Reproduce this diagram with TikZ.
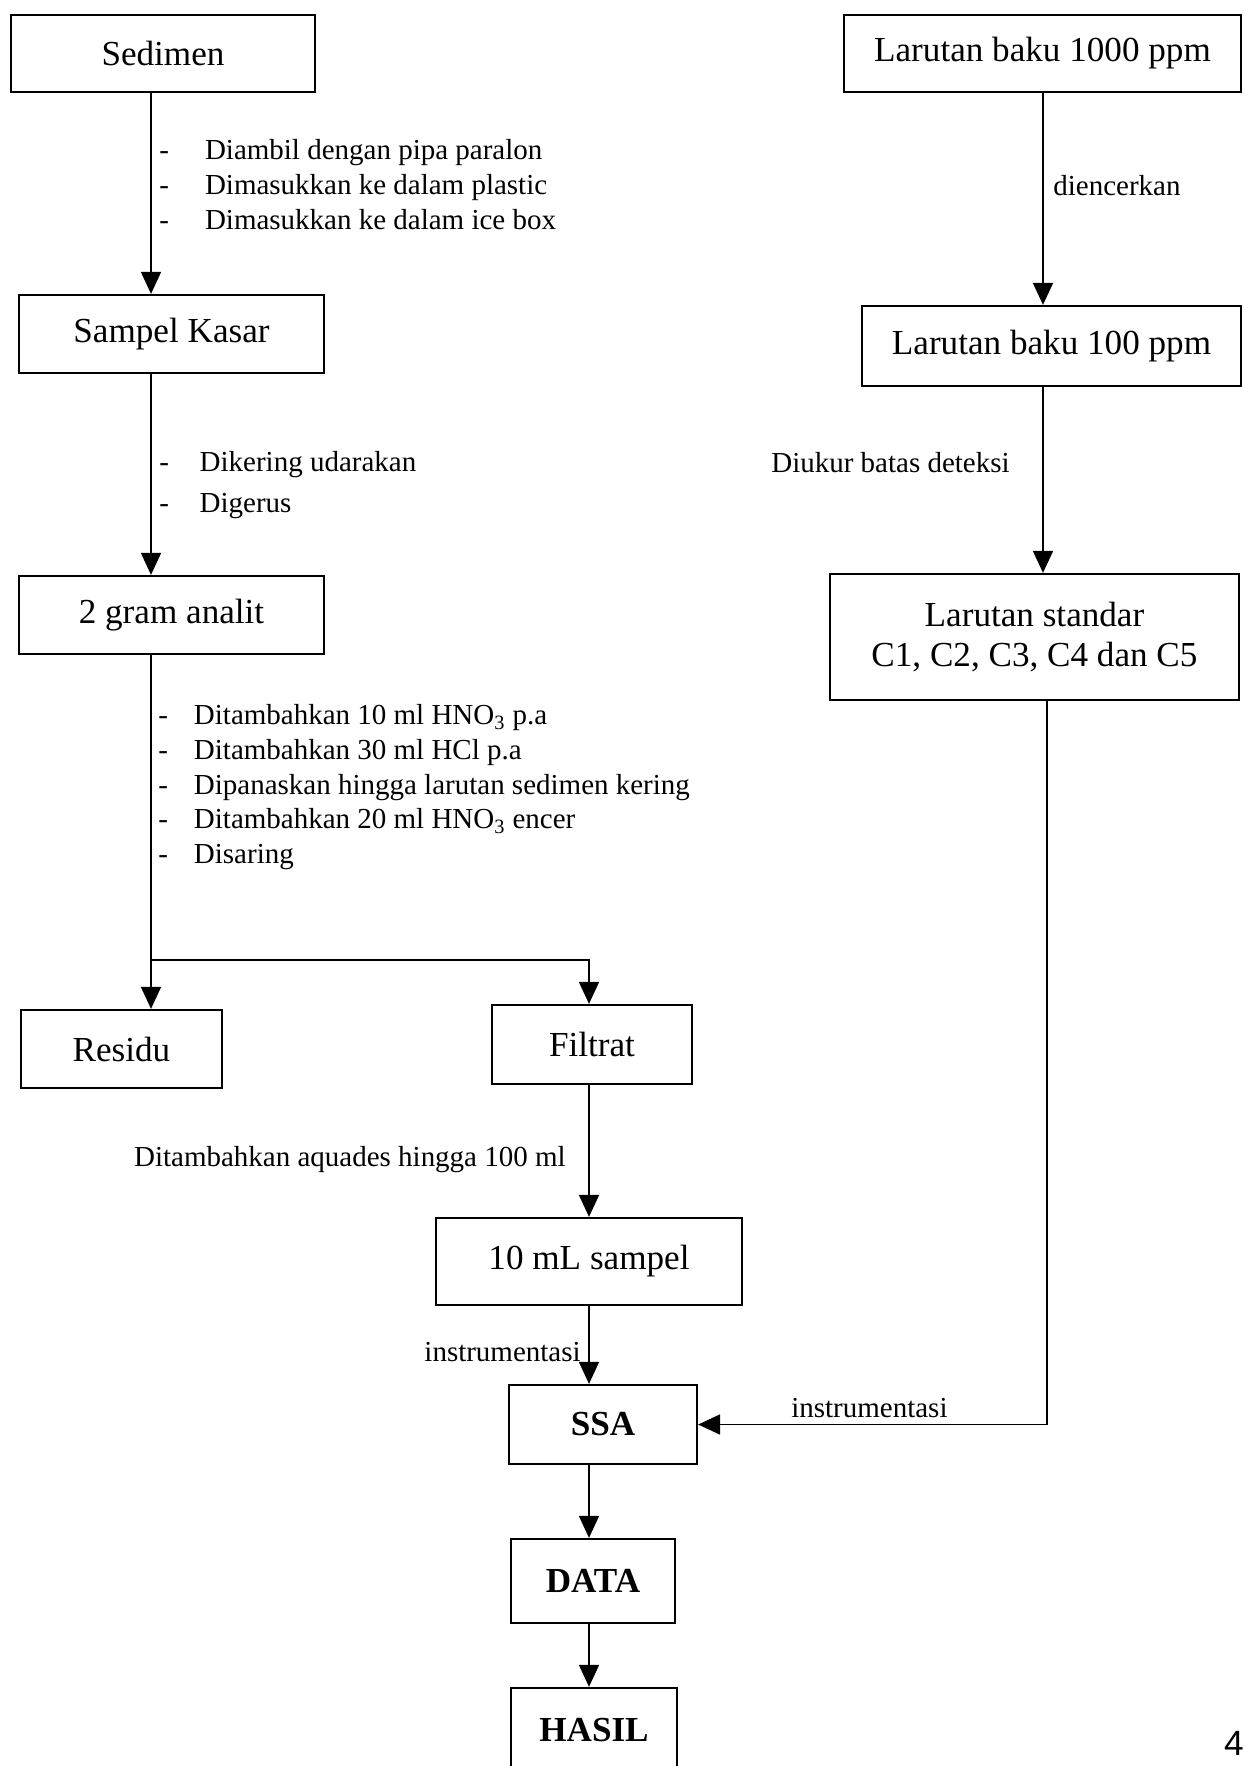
\documentclass[tikz,border=0pt]{standalone}
\usepackage{fontspec}
\setmainfont{Liberation Serif}
\newfontfamily\pagenum{Liberation Sans}
\usetikzlibrary{arrows.meta}

\begin{document}
\begin{tikzpicture}[x=0.02cm,y=-0.02cm]
\tikzset{boite/.style={draw, line width=1.3pt, inner sep=0pt, align=center, font=\fontsize{20}{22.5}\selectfont},
fleche/.style={line width=1pt, -{Triangle[length=0.44cm,width=0.4cm]}},
trait/.style={line width=1pt},
etiq/.style={inner sep=0pt, font=\fontsize{16.5}{19.8}\selectfont}}
\useasboundingbox (0,0) rectangle (1244,1766);
\node[boite, minimum width=6.08cm, minimum height=1.54cm] (sedimen) at (163,53.5) {Sedimen};
\node[boite, minimum width=6.1cm, minimum height=1.56cm] (kasar) at (171.5,334) {Sampel Kasar};
\node[boite, minimum width=6.1cm, minimum height=1.56cm] (analit) at (171.5,615) {2 gram analit};
\node[boite, minimum width=4.02cm, minimum height=1.56cm] (residu) at (121.5,1049) {Residu};
\node[boite, minimum width=4cm, minimum height=1.58cm] (filtrat) at (592,1044.5) {Filtrat};
\node[boite, minimum width=6.12cm, minimum height=1.74cm] (sampel) at (589,1261.5) {10 mL sampel};
\node[boite, minimum width=3.76cm, minimum height=1.58cm] (ssa) at (603,1424.5) {\textbf{SSA}};
\node[boite, minimum width=3.28cm, minimum height=1.68cm] (data) at (593,1581) {\textbf{DATA}};
\node[boite, minimum width=3.32cm, minimum height=1.68cm] (hasil) at (594,1730) {\textbf{HASIL}};
\node[boite, minimum width=7.94cm, minimum height=1.54cm] (baku1000) at (1042.5,53.5) {Larutan baku 1000 ppm};
\node[boite, minimum width=7.58cm, minimum height=1.6cm] (baku100) at (1051.5,346) {Larutan baku 100 ppm};
\node[boite, minimum width=8.18cm, minimum height=2.52cm] (standar) at (1034.5,637) {Larutan standar\\C1, C2, C3, C4 dan C5};
\coordinate (gx) at (151,0);
\coordinate (fx) at (589,0);
\coordinate (dx) at (1043,0);
\coordinate (ex) at (1047,0);
\coordinate (pisah) at (151,960);
\draw[fleche] (sedimen.south -| gx) -- (kasar.north -| gx);
\draw[fleche] (kasar.south -| gx) -- (analit.north -| gx);
\draw[trait] (analit.south -| gx) -- (pisah);
\draw[fleche] (pisah) -- (residu.north -| pisah);
\draw[fleche] (pisah) -| (filtrat.north -| fx);
\draw[fleche] (filtrat.south -| fx) -- (sampel.north -| fx);
\draw[fleche] (sampel.south -| fx) -- (ssa.north -| fx);
\draw[fleche] (ssa.south -| fx) -- (data.north -| fx);
\draw[fleche] (data.south -| fx) -- (hasil.north -| fx);
\draw[fleche] (baku1000.south -| dx) -- (baku100.north -| dx);
\draw[fleche] (baku100.south -| dx) -- (standar.north -| dx);
\draw[fleche] (standar.south -| ex) |- (ssa.east);
\node[etiq, anchor=base west] (ket1) at (159,159.5) {\begin{tabular}[t]{@{}l@{\hspace{20.5pt}}l@{}}
- & Diambil dengan pipa paralon\\
- & Dimasukkan ke dalam plastic\\
- & Dimasukkan ke dalam ice box
\end{tabular}};
\node[etiq, anchor=base west] (ket2) at (159,471) {\begin{tabular}[t]{@{}l@{\hspace{17.5pt}}l@{}}
- & Dikering udarakan\\[3.8pt]
- & Digerus
\end{tabular}};
\node[etiq, anchor=base west] (ket3) at (158,724.5) {\begin{tabular}[t]{@{}l@{\hspace{14.8pt}}l@{}}
- & Ditambahkan 10 ml HNO\textsubscript{3} p.a\\
- & Ditambahkan 30 ml HCl p.a\\
- & Dipanaskan hingga larutan sedimen kering\\
- & Ditambahkan 20 ml HNO\textsubscript{3} encer\\
- & Disaring
\end{tabular}};
\node[etiq, anchor=east] (ket4) at (566,1159.5) {Ditambahkan aquades hingga 100 ml};
\node[etiq, anchor=east] (ket5) at (581,1352) {instrumentasi};
\node[etiq, anchor=west] (ket6) at (791,1408) {instrumentasi};
\node[etiq, anchor=west] (ket7) at (1053,186) {diencerkan};
\node[etiq, anchor=east] (ket8) at (1010,463) {Diukur batas deteksi};
\node[anchor=east, inner sep=0pt, font=\pagenum\fontsize{20}{24}\selectfont] (hal) at (1244,1743) {4};
\end{tikzpicture}
\end{document}
